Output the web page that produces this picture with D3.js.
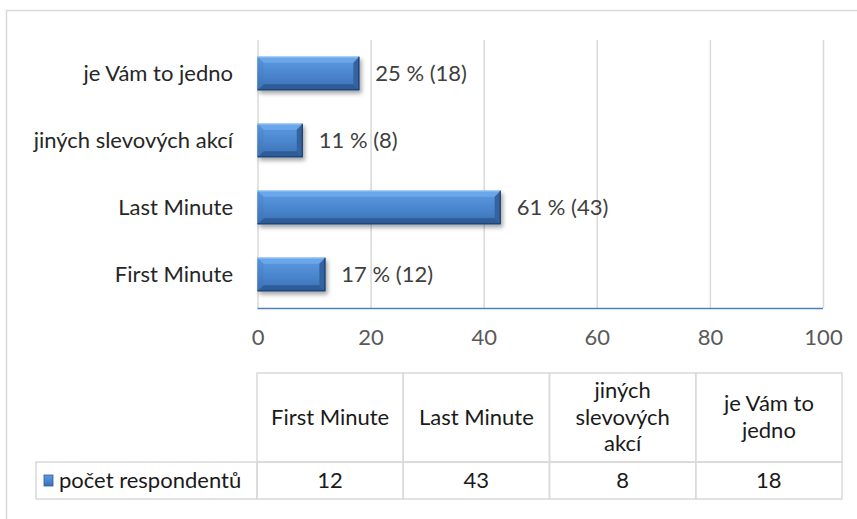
<!DOCTYPE html>
<html>
<head>
<meta charset="utf-8">
<script src="https://cdn.jsdelivr.net/npm/d3@7"></script>
<style>
  html, body { margin: 0; padding: 0; background: #fff; }
  svg { display: block; }
  text { font-family: Lato, "Open Sans", sans-serif; }
</style>
</head>
<body>
<svg id="chart" width="857" height="519"></svg>
<script>
// Survey answers: number of respondents per discount type
const categories = ["First Minute", "Last Minute", "jiných slevových akcí", "je Vám to jedno"];
const counts = [12, 43, 8, 18];
const percents = [17, 61, 11, 25];
const xTicks = [0, 20, 40, 60, 80, 100];
const seriesName = "počet respondentů";
const headerLines = [["First Minute"], ["Last Minute"], ["jiných", "slevových", "akcí"], ["je Vám to", "jedno"]];

const W = 857, H = 519;
const FONT = 22;
const svg = d3.select("#chart");

// gradients and shadow for the bevelled bars
const defs = svg.append("defs");
const face = defs.append("linearGradient").attr("id", "face").attr("x1", 0).attr("y1", 0).attr("x2", 0).attr("y2", 1);
face.append("stop").attr("offset", "0%").attr("stop-color", "#5d9be2");
face.append("stop").attr("offset", "55%").attr("stop-color", "#4a85cd");
face.append("stop").attr("offset", "100%").attr("stop-color", "#3a6fb3");
const side = defs.append("linearGradient").attr("id", "side").attr("x1", 0).attr("y1", 0).attr("x2", 0).attr("y2", 1);
side.append("stop").attr("offset", "0%").attr("stop-color", "#5794dc");
side.append("stop").attr("offset", "100%").attr("stop-color", "#3c70b2");
const shadow = defs.append("filter").attr("id", "shadow").attr("x", "-10%").attr("y", "-30%").attr("width", "130%").attr("height", "180%");
shadow.append("feDropShadow").attr("dx", 2).attr("dy", 3).attr("stdDeviation", 2)
  .attr("flood-color", "#000").attr("flood-opacity", 0.35);

// outer chart frame
svg.append("rect").attr("x", 6.5).attr("y", 10.5).attr("width", 900).attr("height", 600)
  .attr("fill", "#fff").attr("stroke", "#d9d9d9").attr("stroke-width", 1.5);

// scales
const x = d3.scaleLinear().domain([0, 100]).range([257.5, 823]);
const y = d3.scaleBand().domain(categories.slice().reverse()).range([40, 308])
  .paddingInner(0.5).paddingOuter(0.25);

// vertical gridlines (including the value-axis origin)
svg.append("g").attr("transform", "translate(0,40)")
  .call(d3.axisBottom(x).tickValues(xTicks).tickSize(268).tickFormat(""))
  .call(g => g.select(".domain").remove())
  .call(g => g.selectAll(".tick line").attr("stroke", "#d9d9d9").attr("stroke-width", 1.5));

// horizontal base line of the plot
svg.append("line").attr("x1", x(0)).attr("x2", x(100)).attr("y1", 308.5).attr("y2", 308.5)
  .attr("stroke", "#4f81bd").attr("stroke-width", 1.5);

// value axis tick labels
svg.append("g").attr("transform", "translate(0,308)")
  .call(d3.axisBottom(x).tickValues(xTicks).tickSize(0).tickPadding(30).tickFormat(d3.format("d")))
  .call(g => g.select(".domain").remove())
  .call(g => g.selectAll(".tick text").attr("font-size", FONT).attr("fill", "#595959")
    .attr("font-family", "Lato, sans-serif").attr("dy", "0.32em"));

// category labels
svg.append("g").selectAll("text").data(categories).join("text")
  .attr("x", 233).attr("y", d => y(d) + y.bandwidth() / 2 + 7.5)
  .attr("text-anchor", "end").attr("font-size", FONT).attr("fill", "#262626")
  .text(d => d);

// bevelled bars
const B = 6;
const bars = svg.append("g").selectAll("g").data(categories).join("g")
  .attr("filter", "url(#shadow)");
bars.each(function (d, i) {
  const g = d3.select(this);
  const x0 = x(0), y0 = y(d), w = x(counts[i]) - x(0), h = y.bandwidth();
  const p = pts => pts.map(q => q.join(",")).join(" ");
  g.append("rect").attr("x", x0).attr("y", y0).attr("width", w).attr("height", h).attr("fill", "url(#face)");
  g.append("polygon").attr("points", p([[x0, y0], [x0 + w, y0], [x0 + w - B, y0 + B], [x0 + B, y0 + B]]))
    .attr("fill", "#6aa7ea");
  g.append("polygon").attr("points", p([[x0, y0 + h], [x0 + w, y0 + h], [x0 + w - B, y0 + h - B], [x0 + B, y0 + h - B]]))
    .attr("fill", "#2f5b96");
  g.append("polygon").attr("points", p([[x0, y0], [x0 + B, y0 + B], [x0 + B, y0 + h - B], [x0, y0 + h]]))
    .attr("fill", "url(#side)");
  g.append("polygon").attr("points", p([[x0 + w, y0], [x0 + w - B, y0 + B], [x0 + w - B, y0 + h - B], [x0 + w, y0 + h]]))
    .attr("fill", "#35649f");
  g.append("line").attr("x1", x0).attr("x2", x0 + w).attr("y1", y0 + 0.5).attr("y2", y0 + 0.5)
    .attr("stroke", "#86bdf3").attr("stroke-width", 1);
  g.append("polyline").attr("points", p([[x0, y0 + h - 0.5], [x0 + w - 0.5, y0 + h - 0.5], [x0 + w - 0.5, y0]]))
    .attr("fill", "none").attr("stroke", "#1f3f6e").attr("stroke-width", 1.2);
});

// data labels
svg.append("g").selectAll("text").data(categories).join("text")
  .attr("x", (d, i) => x(counts[i]) + 16)
  .attr("y", d => y(d) + y.bandwidth() / 2 + 7.5)
  .attr("font-size", FONT).attr("fill", "#404040")
  .text((d, i) => `${percents[i]} % (${counts[i]})`);

// data table under the chart
const col = d3.scaleBand().domain(categories).range([257, 842]);
const tTop = 373, tMid = 462, tBot = 499, legendLeft = 36;
const table = svg.append("g");
table.selectAll("rect.hdr").data(categories).join("rect").attr("class", "hdr")
  .attr("x", d => col(d)).attr("y", tTop).attr("width", col.bandwidth()).attr("height", tMid - tTop)
  .attr("fill", "none").attr("stroke", "#d9d9d9").attr("stroke-width", 1.5);
table.selectAll("rect.val").data(categories).join("rect").attr("class", "val")
  .attr("x", d => col(d)).attr("y", tMid).attr("width", col.bandwidth()).attr("height", tBot - tMid)
  .attr("fill", "none").attr("stroke", "#d9d9d9").attr("stroke-width", 1.5);
table.append("rect").attr("x", legendLeft).attr("y", tMid).attr("width", col(categories[0]) - legendLeft)
  .attr("height", tBot - tMid).attr("fill", "none").attr("stroke", "#d9d9d9").attr("stroke-width", 1.5);

const LH = 26.5;
table.selectAll("text.hdr").data(categories).join("text").attr("class", "hdr")
  .attr("text-anchor", "middle").attr("font-size", FONT).attr("fill", "#1a1a1a")
  .each(function (d, i) {
    const lines = headerLines[i];
    const cy = (tTop + tMid) / 2 + 7 - (lines.length - 1) * LH / 2;
    d3.select(this).selectAll("tspan").data(lines).join("tspan")
      .attr("x", col(d) + col.bandwidth() / 2).attr("y", (l, k) => cy + k * LH).text(l => l);
  });
table.selectAll("text.val").data(categories).join("text").attr("class", "val")
  .attr("x", d => col(d) + col.bandwidth() / 2).attr("y", (tMid + tBot) / 2 + 7.5)
  .attr("text-anchor", "middle").attr("font-size", FONT).attr("fill", "#1a1a1a")
  .text((d, i) => counts[i]);

// legend key and series name
table.append("rect").attr("x", 44).attr("y", 475).attr("width", 9).attr("height", 11)
  .attr("fill", "url(#face)").attr("stroke", "#2f5b96").attr("stroke-width", 0.8);
table.append("text").attr("x", 59).attr("y", (tMid + tBot) / 2 + 7.5)
  .attr("font-size", FONT).attr("fill", "#1a1a1a").text(seriesName);
</script>
</body>
</html>
